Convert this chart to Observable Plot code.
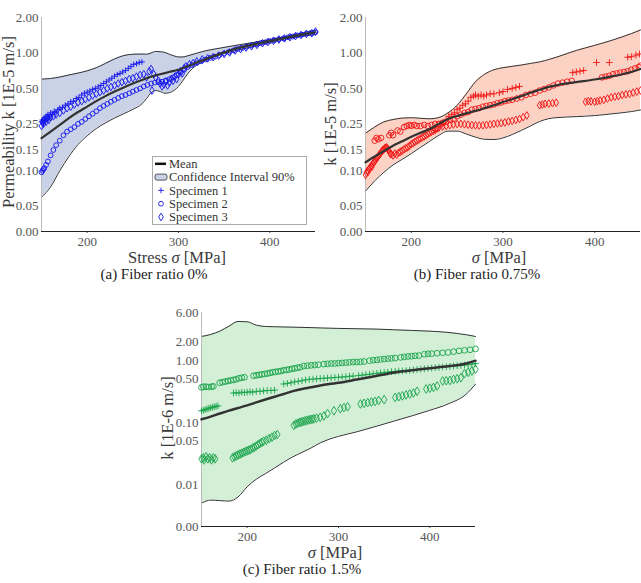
<!DOCTYPE html>
<html>
<head>
<meta charset="utf-8">
<script src="https://cdn.jsdelivr.net/npm/d3@7"></script>
<script src="https://cdn.jsdelivr.net/npm/@observablehq/plot@0.6"></script>
<style>
  body { margin: 0; background: #fff; }
  #page { position: relative; width: 641px; height: 583px; overflow: hidden; font-family: "Liberation Serif", serif; }
  #page > svg { position: absolute; }
  .lbl { position: absolute; white-space: nowrap; color: #3a3a3a; font-size: 16.5px; line-height: 1; transform: translate(-50%, -50%); }
  .ylbl { transform: translate(-50%, -50%) rotate(-90deg); }
  .cap { position: absolute; white-space: nowrap; color: #222; font-size: 15px; line-height: 1; transform: translate(-50%, -50%); }
</style>
</head>
<body>
<div id="page"></div>
<script>
// ---- shared axis ticks ----
const xTicks = [200, 300, 400];
const ticksAB = [0.0305, 0.05, 0.10, 0.15, 0.25, 0.50, 1.00, 2.00];
const tickLabelsAB = ["0.00", "0.05", "0.10", "0.15", "0.25", "0.50", "1.00", "2.00"];
const ticksC = [0.0021, 0.01, 0.05, 0.10, 0.50, 1.00, 2.00, 6.00];
const tickLabelsC = ["0.00", "0.01", "0.05", "0.10", "0.50", "1.00", "2.00", "6.00"];
const legendLabels = ["Mean", "Confidence Interval 90%", "Specimen 1", "Specimen 2", "Specimen 3"];

// ---- (a) fiber ratio 0% : k in 1E-5 m/s ----
const stressA = [150,160,170,180,190,200,210,220,230,240,250,260,265,270,275,280,285,290,295,300,305,310,320,330,340,360,380,400,420,440,450];
const highA = [0.60,0.607,0.625,0.65,0.675,0.705,0.75,0.815,0.89,0.95,0.975,0.98,0.975,1.0,1.03,1.025,1.01,0.975,0.945,0.925,0.925,0.945,0.995,1.045,1.08,1.15,1.22,1.30,1.39,1.50,1.55];
const lowA = [0.0596,0.073,0.1,0.132,0.167,0.198,0.228,0.255,0.28,0.305,0.332,0.37,0.41,0.46,0.48,0.47,0.455,0.46,0.48,0.52,0.585,0.665,0.79,0.865,0.93,1.035,1.13,1.235,1.33,1.40,1.43];
const meanA = [0.189,0.215,0.245,0.28,0.315,0.35,0.39,0.43,0.47,0.51,0.55,0.59,0.61,0.63,0.645,0.66,0.675,0.69,0.705,0.72,0.745,0.77,0.83,0.89,0.95,1.07,1.17,1.26,1.36,1.45,1.5];
const spec1A = [[150,0.26],[151,0.27],[152,0.25],[153,0.28],[154,0.265],[155,0.29],[156,0.27],[157,0.3],[158,0.28],[159,0.29],[160,0.31],[162,0.3],[164,0.32],[166,0.31],[168,0.33],[170,0.34],[173,0.345],[176,0.36],[179,0.37],[182,0.385],[185,0.39],[188,0.41],[191,0.42],[194,0.44],[197,0.455],[200,0.465],[203,0.475],[206,0.49],[209,0.5],[212,0.515],[215,0.53],[218,0.55],[221,0.57],[224,0.59],[227,0.61],[230,0.635],[233,0.655],[236,0.67],[239,0.69],[242,0.71],[245,0.74],[248,0.77],[251,0.8],[254,0.81],[257,0.83],[260,0.84]];
const spec2A = [[150,0.097],[151,0.1],[152,0.103],[153,0.105],[155,0.112],[157,0.12],[160,0.135],[163,0.15],[166,0.165],[170,0.18],[174,0.2],[178,0.215],[182,0.225],[186,0.235],[190,0.25],[194,0.26],[198,0.275],[202,0.29],[206,0.305],[210,0.32],[214,0.34],[218,0.355],[222,0.37],[226,0.385],[230,0.4],[234,0.415],[238,0.43],[242,0.44],[246,0.455],[250,0.47],[254,0.485],[258,0.5],[262,0.52],[266,0.535],[270,0.55],[274,0.56],[278,0.565],[282,0.57],[286,0.585],[290,0.6],[294,0.62],[298,0.65],[302,0.68],[306,0.72],[310,0.76],[315,0.79],[320,0.82],[325,0.85],[330,0.88],[335,0.91],[340,0.93],[345,0.96],[350,0.99],[355,1.02],[360,1.05],[365,1.08],[370,1.1],[375,1.13],[380,1.16],[385,1.18],[390,1.21],[395,1.23],[400,1.26],[405,1.28],[410,1.31],[415,1.33],[420,1.36],[425,1.38],[430,1.41],[435,1.43],[440,1.46],[445,1.48],[450,1.5]];
const spec3A = [[150,0.24],[151,0.26],[152,0.25],[153,0.27],[155,0.26],[156,0.28],[158,0.27],[160,0.285],[163,0.29],[166,0.3],[170,0.31],[174,0.325],[178,0.34],[182,0.35],[186,0.365],[190,0.38],[194,0.39],[198,0.405],[202,0.42],[206,0.435],[210,0.45],[214,0.465],[218,0.48],[222,0.5],[226,0.515],[230,0.53],[234,0.55],[238,0.565],[242,0.58],[246,0.6],[250,0.61],[254,0.63],[258,0.65],[262,0.66],[265,0.62],[268,0.7],[270,0.73],[271,0.48],[273,0.66],[275,0.62],[278,0.58],[280,0.55],[282,0.52],[284,0.54],[286,0.57],[288,0.53],[290,0.56],[292,0.6],[294,0.58],[296,0.63],[298,0.6],[300,0.66],[302,0.7],[304,0.67],[306,0.74],[308,0.77],[312,0.8],[316,0.82],[320,0.85],[326,0.88],[332,0.9],[338,0.92],[344,0.95],[350,0.98],[356,1.01],[362,1.05],[368,1.08],[374,1.11],[380,1.14],[386,1.17],[392,1.21],[398,1.24],[404,1.27],[410,1.3],[416,1.33],[422,1.36],[428,1.39],[434,1.42],[440,1.45],[446,1.47],[450,1.52]];

// ---- (b) fiber ratio 0.75% : k in 1E-5 m/s ----
const stressB = [150,160,170,180,190,200,210,220,230,240,250,260,270,280,290,300,310,320,330,340,350,360,380,400,420,440,450];
const highB = [0.208,0.235,0.26,0.272,0.28,0.282,0.279,0.276,0.283,0.31,0.36,0.45,0.57,0.66,0.72,0.75,0.77,0.79,0.815,0.84,0.88,0.93,1.05,1.16,1.29,1.46,1.567];
const lowB = [0.067,0.082,0.097,0.112,0.125,0.14,0.158,0.178,0.2,0.217,0.217,0.205,0.193,0.185,0.184,0.19,0.203,0.22,0.24,0.262,0.277,0.283,0.288,0.294,0.305,0.318,0.328];
const meanB = [0.118,0.132,0.147,0.163,0.178,0.194,0.21,0.226,0.25,0.275,0.292,0.307,0.322,0.34,0.36,0.383,0.405,0.43,0.46,0.487,0.515,0.535,0.565,0.595,0.635,0.69,0.73];
const spec1B = [[226,0.22],[230,0.235],[234,0.25],[238,0.27],[241,0.29],[244,0.3],[247,0.31],[250,0.33],[253,0.34],[256,0.36],[259,0.37],[262,0.39],[265,0.42],[268,0.43],[270,0.44],[273,0.43],[276,0.44],[279,0.43],[282,0.44],[286,0.45],[290,0.45],[296,0.46],[300,0.47],[305,0.49],[310,0.5],[314,0.51],[318,0.52],[376,0.68],[380,0.69],[384,0.7],[388,0.71],[402,0.83],[416,0.83],[436,0.92],[440,0.93],[445,0.96],[449,0.98]];
const spec2B = [[160,0.18],[162,0.19],[164,0.185],[167,0.19],[176,0.2],[178,0.21],[180,0.2],[185,0.22],[188,0.215],[192,0.235],[195,0.24],[198,0.245],[200,0.24],[203,0.245],[206,0.24],[210,0.24],[214,0.245],[218,0.24],[222,0.245],[226,0.25],[230,0.25],[234,0.255],[238,0.26],[242,0.27],[246,0.275],[250,0.29],[254,0.3],[258,0.31],[262,0.315],[266,0.33],[270,0.335],[274,0.34],[278,0.35],[282,0.355],[286,0.36],[290,0.365],[294,0.375],[298,0.38],[302,0.39],[306,0.395],[310,0.4],[315,0.41],[320,0.42],[325,0.44],[330,0.45],[335,0.46],[340,0.48],[345,0.495],[350,0.51],[355,0.53],[360,0.55],[365,0.56],[370,0.57],[375,0.58],[408,0.62],[412,0.63],[416,0.64],[420,0.66],[424,0.67],[428,0.68],[432,0.69],[436,0.7],[440,0.72],[444,0.74],[448,0.76],[450,0.78]];
const spec3B = [[150,0.092],[151,0.096],[152,0.1],[153,0.098],[154,0.104],[155,0.106],[156,0.11],[157,0.108],[158,0.114],[159,0.118],[160,0.12],[161,0.123],[162,0.127],[163,0.13],[164,0.133],[165,0.136],[166,0.14],[167,0.143],[168,0.147],[169,0.15],[170,0.152],[171,0.155],[172,0.157],[173,0.158],[174,0.155],[175,0.15],[176,0.145],[177,0.14],[178,0.138],[180,0.135],[182,0.14],[184,0.137],[186,0.142],[188,0.145],[190,0.148],[192,0.152],[194,0.155],[196,0.158],[198,0.163],[200,0.168],[202,0.172],[204,0.176],[206,0.18],[208,0.184],[210,0.188],[212,0.192],[214,0.196],[216,0.2],[218,0.205],[220,0.21],[222,0.214],[224,0.219],[226,0.223],[228,0.228],[230,0.232],[234,0.237],[238,0.24],[242,0.244],[246,0.247],[250,0.249],[254,0.25],[258,0.248],[262,0.246],[266,0.244],[270,0.243],[274,0.242],[278,0.243],[282,0.245],[286,0.247],[290,0.25],[294,0.252],[298,0.254],[302,0.257],[306,0.262],[310,0.265],[314,0.27],[318,0.275],[322,0.285],[326,0.295],[340,0.36],[343,0.365],[346,0.37],[350,0.372],[354,0.375],[358,0.378],[390,0.385],[393,0.39],[396,0.388],[400,0.385],[403,0.39],[406,0.395],[410,0.4],[414,0.41],[418,0.42],[422,0.425],[426,0.43],[430,0.44],[434,0.445],[438,0.45],[442,0.46],[446,0.47],[450,0.48]];

// ---- (c) fiber ratio 1.5% : k in 1E-6 m/s ----
const stressC = [150,160,170,180,190,200,210,220,230,240,250,260,270,280,290,300,320,340,360,380,400,420,440,450];
const highC = [2.46,2.65,3.0,3.6,4.3,4.25,3.75,3.57,3.53,3.5,3.48,3.45,3.42,3.38,3.35,3.32,3.28,3.24,3.16,3.08,3.0,2.86,2.62,2.46];
const lowC = [0.005,0.0056,0.0055,0.0054,0.0063,0.0092,0.0122,0.015,0.0185,0.023,0.028,0.033,0.039,0.047,0.054,0.06,0.071,0.086,0.105,0.128,0.158,0.2,0.29,0.418];
const meanC = [0.113,0.125,0.14,0.156,0.172,0.19,0.212,0.236,0.262,0.29,0.322,0.35,0.372,0.398,0.42,0.44,0.495,0.56,0.64,0.7,0.755,0.81,0.9,1.0];
const spec1C = [[150,0.155],[152,0.158],[154,0.162],[156,0.166],[158,0.17],[160,0.174],[162,0.177],[164,0.18],[166,0.183],[168,0.186],[185,0.3],[188,0.305],[191,0.3],[194,0.31],[197,0.305],[200,0.31],[203,0.315],[206,0.31],[210,0.32],[214,0.32],[218,0.325],[222,0.33],[226,0.33],[230,0.335],[240,0.42],[244,0.43],[248,0.44],[252,0.455],[256,0.465],[260,0.475],[264,0.49],[268,0.5],[272,0.505],[276,0.51],[280,0.515],[284,0.52],[288,0.525],[292,0.53],[296,0.535],[300,0.54],[304,0.545],[308,0.55],[312,0.56],[316,0.565],[322,0.575],[326,0.585],[330,0.595],[334,0.605],[338,0.615],[342,0.625],[346,0.635],[350,0.645],[354,0.655],[358,0.665],[362,0.672],[366,0.68],[370,0.685],[374,0.69],[378,0.7],[382,0.71],[386,0.72],[390,0.73],[394,0.74],[398,0.75],[402,0.76],[406,0.77],[410,0.78],[414,0.79],[418,0.8],[422,0.81],[426,0.82],[430,0.83],[434,0.84],[438,0.85],[442,0.86],[446,0.88],[450,0.9]];
const spec2C = [[150,0.37],[152,0.38],[155,0.38],[158,0.375],[161,0.38],[163,0.385],[170,0.44],[173,0.45],[176,0.46],[179,0.47],[182,0.48],[185,0.49],[188,0.5],[191,0.52],[194,0.53],[197,0.54],[207,0.57],[210,0.58],[213,0.59],[216,0.6],[219,0.61],[222,0.62],[225,0.635],[228,0.65],[231,0.66],[234,0.67],[237,0.68],[240,0.7],[243,0.71],[246,0.72],[249,0.74],[252,0.75],[255,0.77],[258,0.78],[262,0.82],[266,0.83],[270,0.84],[274,0.85],[278,0.86],[284,0.88],[288,0.89],[292,0.9],[296,0.9],[300,0.91],[304,0.92],[308,0.93],[312,0.94],[316,0.95],[320,0.95],[324,0.96],[328,0.97],[334,1.0],[338,1.02],[342,1.03],[346,1.05],[350,1.06],[354,1.08],[358,1.09],[362,1.1],[368,1.13],[372,1.15],[376,1.17],[380,1.18],[384,1.2],[388,1.21],[394,1.27],[398,1.29],[402,1.3],[408,1.32],[414,1.34],[420,1.36],[426,1.4],[432,1.44],[438,1.47],[444,1.5],[450,1.55]];
const spec3C = [[150,0.026],[152,0.027],[153,0.025],[155,0.028],[157,0.026],[159,0.027],[161,0.025],[163,0.027],[165,0.026],[184,0.027],[186,0.028],[188,0.029],[190,0.03],[192,0.031],[194,0.032],[196,0.033],[198,0.034],[200,0.035],[202,0.036],[204,0.037],[206,0.039],[208,0.04],[210,0.042],[212,0.044],[214,0.046],[216,0.048],[218,0.05],[221,0.052],[224,0.055],[227,0.058],[230,0.062],[233,0.064],[251,0.09],[253,0.095],[255,0.097],[257,0.1],[259,0.102],[261,0.104],[263,0.106],[265,0.108],[267,0.11],[269,0.112],[271,0.113],[273,0.115],[276,0.118],[280,0.122],[284,0.128],[288,0.14],[295,0.155],[302,0.168],[306,0.175],[310,0.18],[324,0.2],[328,0.205],[332,0.21],[336,0.215],[340,0.22],[344,0.228],[350,0.235],[362,0.255],[366,0.262],[370,0.27],[374,0.28],[378,0.29],[382,0.3],[386,0.32],[396,0.35],[400,0.36],[404,0.37],[408,0.39],[414,0.47],[418,0.475],[422,0.48],[426,0.5],[430,0.51],[434,0.53],[438,0.62],[442,0.65],[446,0.68],[450,0.73]];

// tall, narrow diamond marker
const thinDiamond = {
  draw(ctx, size) {
    const h = Math.sqrt(size) * 0.72, w = h * 0.62;
    ctx.moveTo(0, -h); ctx.lineTo(w, 0); ctx.lineTo(0, h); ctx.lineTo(-w, 0); ctx.closePath();
  }
};

const page = document.getElementById("page");

function panel({stress, mean, low, high, s1, s2, s3, color, fill, base, yTicks, yLabels,
                width, marginLeft, marginRight, left, top, r1, r2, r3, meanWidth}) {
  const band = stress.map((s, i) => ({s, lo: low[i], hi: high[i], m: mean[i]}));
  const pt = {x: d => d[0], y: d => d[1]};
  const chart = Plot.plot({
    width, height: 250, marginLeft, marginRight, marginTop: 17, marginBottom: 19,
    style: {fontFamily: "'Liberation Serif', serif", fontSize: "13px", color: "#555", background: "transparent", overflow: "visible"},
    x: {domain: [150, 450], ticks: xTicks, tickSize: 2, tickPadding: 3, label: null},
    y: {type: "log", base, domain: [yTicks[0], yTicks[yTicks.length - 1]], axis: null},
    marks: [
      Plot.areaY(band, {x: "s", y1: "lo", y2: "hi", fill, curve: "monotone-x"}),
      Plot.line(band, {x: "s", y: "hi", stroke: "#333", strokeWidth: 1, curve: "monotone-x"}),
      Plot.line(band, {x: "s", y: "lo", stroke: "#333", strokeWidth: 1, curve: "monotone-x"}),
      Plot.ruleX([150], {stroke: "#bbb", strokeWidth: 1}),
      Plot.ruleY([yTicks[0]], {stroke: "#222", strokeWidth: 1}),
      // y tick labels, set flush against the left spine
      Plot.text(yTicks, {frameAnchor: "left", y: d => d, text: (d, i) => yLabels[i],
                         textAnchor: "end", dx: -3, fontSize: 13, fill: "#555"}),
      Plot.dot(s3, {...pt, symbol: thinDiamond, r: r3, fill: "none", stroke: color, strokeWidth: 0.9}),
      Plot.dot(s2, {...pt, symbol: "circle", r: r2, fill: "none", stroke: color, strokeWidth: 0.9}),
      Plot.dot(s1, {...pt, symbol: "plus", r: r1, stroke: color, strokeWidth: 0.9}),
      Plot.line(band, {x: "s", y: "m", stroke: "#333", strokeWidth: meanWidth, curve: "monotone-x"})
    ]
  });
  chart.style.left = left + "px";
  chart.style.top = top + "px";
  page.appendChild(chart);
}

const blue = "#1414ee", blueFill = "#c9d2e7";
const red = "#f01212", redFill = "#fcd2c4";
const green = "#17a34a", greenFill = "#d3f0d7";

panel({stress: stressA, mean: meanA, low: lowA, high: highA, s1: spec1A, s2: spec2A, s3: spec3A,
       color: blue, fill: blueFill, base: 2, yTicks: ticksAB, yLabels: tickLabelsAB,
       width: 330, marginLeft: 41, marginRight: 15, left: 0, top: 0, r1: 2.0, r2: 2.4, r3: 3, meanWidth: 2.2});
panel({stress: stressB, mean: meanB, low: lowB, high: highB, s1: spec1B, s2: spec2B, s3: spec3B,
       color: red, fill: redFill, base: 2, yTicks: ticksAB, yLabels: tickLabelsAB,
       width: 321, marginLeft: 45, marginRight: 1, left: 320, top: 0, r1: 2.3, r2: 2.8, r3: 3, meanWidth: 2.2});
panel({stress: stressC, mean: meanC, low: lowC, high: highC, s1: spec1C, s2: spec2C, s3: spec3C,
       color: green, fill: greenFill, base: 10, yTicks: ticksC, yLabels: tickLabelsC,
       width: 330, marginLeft: 41, marginRight: 15, left: 160, top: 295, r1: 2.3, r2: 2.9, r3: 3.4, meanWidth: 2.5});

// axis titles and captions
function text(cls, html, x, y) {
  const el = document.createElement("div");
  el.className = cls;
  el.innerHTML = html;
  el.style.left = x + "px";
  el.style.top = y + "px";
  page.appendChild(el);
}
text("lbl ylbl", "Permeability k [1E-5 m/s]", 9, 122);
text("lbl", "Stress <i>σ</i> [MPa]", 177, 258);
text("cap", "(a) Fiber ratio 0%", 154, 274);
text("lbl ylbl", "k [1E-5 m/s]", 331, 124);
text("lbl", "<i>σ</i> [MPa]", 499, 258);
text("cap", "(b) Fiber ratio 0.75%", 477, 274);
text("lbl ylbl", "k [1E-6 m/s]", 168, 418);
text("lbl", "<i>σ</i> [MPa]", 335, 553);
text("cap", "(c) Fiber ratio 1.5%", 302, 569);

// legend of panel (a)
const lg = d3.select(page).append("svg")
  .attr("width", 156).attr("height", 71)
  .style("left", "152px").style("top", "156px");
lg.append("rect").attr("x", 0.5).attr("y", 0.5).attr("width", 154).attr("height", 68)
  .attr("fill", "#fff").attr("stroke", "#aaa");
const rowY = [7.8, 21.1, 34.4, 47.7, 61];
lg.append("line").attr("x1", 3).attr("x2", 14).attr("y1", rowY[0]).attr("y2", rowY[0])
  .attr("stroke", "#111").attr("stroke-width", 2.5);
lg.append("rect").attr("x", 3).attr("y", rowY[1] - 3).attr("width", 12).attr("height", 6).attr("rx", 2)
  .attr("fill", blueFill).attr("stroke", "#555");
const legendSymbols = [d3.symbolPlus, d3.symbolCircle, thinDiamond];
const legendSizes = [Math.PI * 2.0 * 2.0, Math.PI * 2.4 * 2.4, Math.PI * 3 * 3];
legendSymbols.forEach((sym, i) => {
  lg.append("path").attr("d", d3.symbol(sym, legendSizes[i])())
    .attr("transform", `translate(9,${rowY[i + 2]})`)
    .attr("fill", "none").attr("stroke", blue).attr("stroke-width", 0.9);
});
lg.selectAll("text.entry").data(legendLabels).join("text")
  .attr("class", "entry")
  .attr("x", 17).attr("y", (d, i) => rowY[i]).attr("dy", "0.35em")
  .attr("font-family", "'Liberation Serif', serif").attr("font-size", 12.5).attr("fill", "#333")
  .text(d => d);
</script>
</body>
</html>
